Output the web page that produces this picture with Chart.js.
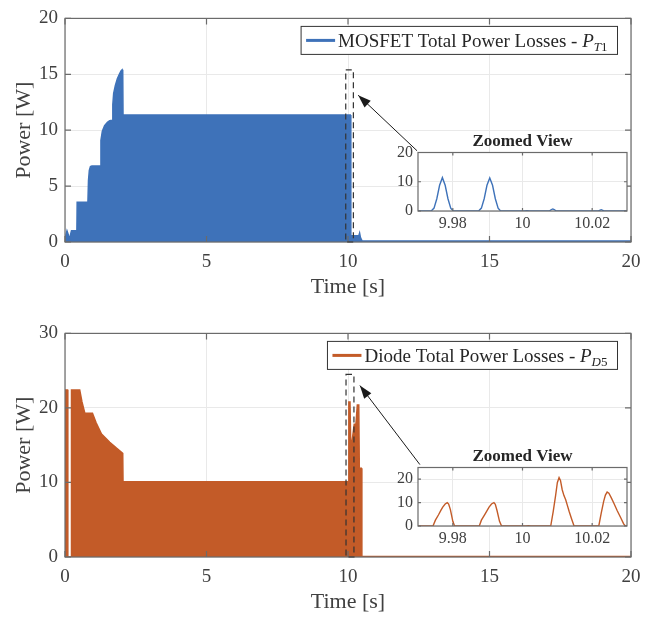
<!DOCTYPE html>
<html>
<head>
<meta charset="utf-8">
<script src="https://cdn.jsdelivr.net/npm/chart.js@4.4.1/dist/chart.umd.min.js"></script>
<style>
  body { margin: 0; background: #fff; }
  #wrap { position: relative; width: 663px; height: 617px; }
  canvas { position: absolute; }
</style>
</head>
<body>
<div id="wrap">
  <canvas id="mosfetChart" width="663" height="302" style="left:0;top:0"></canvas>
  <canvas id="diodeChart" width="663" height="302" style="left:0;top:315px"></canvas>
  <canvas id="mosfetZoom" width="265" height="110" style="left:370px;top:125px"></canvas>
  <canvas id="diodeZoom" width="265" height="110" style="left:370px;top:440px"></canvas>
</div>
<script>
// envelope of the switching losses, full run
const mosfetTime = [0, 0.03, 0.07, 0.11, 0.15, 0.19, 0.23, 0.42, 0.43, 0.81, 0.83, 0.86, 0.9, 0.95, 1.26, 1.27, 1.32, 1.4, 1.5, 1.58, 1.67, 1.69, 1.72, 1.78, 1.85, 1.92, 1.98, 2.02, 2.04, 2.05, 10.08, 10.1, 10.38, 10.41, 10.44, 10.5, 20]
const mosfetPower = [0, 0.6, 1.0, 0.7, 0.2, 0.6, 1.0, 1.0, 3.55, 3.55, 5.5, 6.4, 6.75, 6.8, 6.8, 9.1, 9.9, 10.4, 10.7, 10.85, 10.9, 12.3, 13.3, 14.0, 14.6, 15.0, 15.3, 15.4, 15.2, 11.35, 11.35, 0.55, 0.55, 0.8, 0.4, 0.08, 0.08]

const diodeTime = [0, 0.01, 0.09, 0.1, 0.22, 0.23, 0.52, 0.6, 0.7, 0.97, 1.1, 1.29, 1.45, 1.58, 1.82, 2.04, 2.05, 9.98, 10.0, 10.03, 10.07, 10.1, 10.16, 10.22, 10.28, 10.33, 10.38, 10.4, 10.47, 10.49, 20]
const diodePower = [0, 22.4, 22.4, 0, 0, 22.4, 22.4, 20.8, 19.3, 19.3, 18.0, 16.5, 15.9, 15.4, 14.6, 13.9, 10.1, 10.1, 10.1, 20.8, 20.8, 14.3, 16.0, 17.8, 17.8, 20.4, 20.4, 11.9, 11.9, 0.08, 0.08]

// zoomed window around t = 10 s
const zoomMosfetTime = [9.97, 9.9738, 9.9746, 9.9754, 9.9762, 9.977, 9.9778, 9.9786, 9.9794, 9.9801, 9.9874, 9.9882, 9.989, 9.9898, 9.9906, 9.9914, 9.9922, 9.993, 9.9937, 10.0005, 10.0013, 10.0021, 10.0077, 10.0083, 10.0087, 10.0091, 10.0097, 10.0218, 10.0226, 10.0234, 10.03]
const zoomMosfetPower = [0, 0, 1.0, 4.2, 8.8, 11.4, 8.8, 4.2, 1.0, 0, 0, 1.0, 4.2, 8.8, 11.3, 8.8, 4.2, 1.0, 0, 0, 0.1, 0, 0, 0.5, 0.7, 0.5, 0, 0, 0.45, 0, 0]

const zoomDiodeTime = [9.97, 9.9743, 9.975, 9.9759, 9.9766, 9.9771, 9.9778, 9.9784, 9.9788, 9.9793, 9.98, 9.9805, 9.9876, 9.9882, 9.9892, 9.9904, 9.9911, 9.9918, 9.9922, 9.9927, 9.9934, 9.994, 10.001, 10.0017, 10.0024, 10.0081, 10.0088, 10.0095, 10.01, 10.0105, 10.0109, 10.0114, 10.0119, 10.0124, 10.0129, 10.0134, 10.0141, 10.0148, 10.0219, 10.0226, 10.0233, 10.0238, 10.0243, 10.0248, 10.0255, 10.0263, 10.0272, 10.0282, 10.029, 10.0295, 10.03]
const zoomDiodePower = [0, 0, 2.5, 4.8, 6.8, 8.1, 9.4, 10.0, 9.4, 7.0, 2.0, 0, 0, 2.5, 5.0, 8.1, 9.4, 10.0, 9.3, 6.5, 2.0, 0, 0, 0.15, 0, 0, 6.0, 13.0, 18.5, 20.7, 19.5, 15.5, 13.0, 11.2, 8.7, 6.2, 3.0, 0, 0, 5.5, 10.5, 13.2, 14.5, 14.0, 12.0, 9.5, 6.5, 3.5, 1.0, 0, 0]

const timeTicks = [0, 5, 10, 15, 20]
const mosfetPowerTicks = [0, 5, 10, 15, 20]
const diodePowerTicks = [0, 10, 20, 30]
const zoomTimeTicks = [9.98, 10, 10.02]
const zoomTimeLabels = ['9.98', '10', '10.02']
const zoomPowerTicks = [0, 10, 20]

const mosfetLegend = ['MOSFET Total Power Losses - ', 'P', 'T', '1']
const diodeLegend = ['Diode Total Power Losses - ', 'P', 'D', '5']

const blue = '#3e72b9'
const orange = '#c35b28'
const axisGray = '#6b6b6b'
const textGray = '#404040'
const gridGray = '#e9e9e9'
const fam = "'Liberation Serif', 'Times New Roman', serif"

Chart.defaults.font.family = fam
Chart.defaults.color = textGray

function toPoints(xs, ys) {
  return xs.map((x, i) => ({ x: x, y: ys[i] }))
}

function fixedTicks(list) {
  return function (s) { s.ticks = list.map(v => ({ value: v })) }
}

// axes box with inward ticks on all sides
function drawFrame(chart, tickLen) {
  const { ctx, chartArea: a, scales } = chart
  ctx.save()
  ctx.strokeStyle = axisGray
  ctx.lineWidth = 1.2
  ctx.strokeRect(a.left, a.top, a.right - a.left, a.bottom - a.top)
  ctx.beginPath()
  scales.x.ticks.forEach(t => {
    const px = scales.x.getPixelForValue(t.value)
    ctx.moveTo(px, a.bottom); ctx.lineTo(px, a.bottom - tickLen)
    ctx.moveTo(px, a.top); ctx.lineTo(px, a.top + tickLen)
  })
  scales.y.ticks.forEach(t => {
    const py = scales.y.getPixelForValue(t.value)
    ctx.moveTo(a.left, py); ctx.lineTo(a.left + tickLen, py)
    ctx.moveTo(a.right, py); ctx.lineTo(a.right - tickLen, py)
  })
  ctx.stroke()
  ctx.restore()
}

function drawLegend(chart, parts, color) {
  const { ctx, chartArea: a } = chart
  const size = 19, sub = 13
  ctx.save()
  const fonts = [size + 'px ' + fam, 'italic ' + size + 'px ' + fam, 'italic ' + sub + 'px ' + fam, sub + 'px ' + fam]
  const widths = parts.map((p, i) => { ctx.font = fonts[i]; return ctx.measureText(p).width })
  const textW = widths.reduce((s, w) => s + w, 0)
  const boxW = 5 + 29 + 3 + textW + 10, boxH = 28
  const x0 = a.right - 13.5 - boxW, y0 = a.top + 8
  ctx.fillStyle = '#fff'
  ctx.fillRect(x0, y0, boxW, boxH)
  ctx.strokeStyle = '#333'
  ctx.lineWidth = 1
  ctx.strokeRect(x0, y0, boxW, boxH)
  ctx.strokeStyle = color
  ctx.lineWidth = 3
  ctx.beginPath()
  ctx.moveTo(x0 + 5, y0 + boxH / 2)
  ctx.lineTo(x0 + 34, y0 + boxH / 2)
  ctx.stroke()
  ctx.fillStyle = '#262626'
  ctx.textBaseline = 'alphabetic'
  ctx.textAlign = 'left'
  let tx = x0 + 37
  const base = y0 + boxH / 2 + 6.5
  parts.forEach((p, i) => {
    ctx.font = fonts[i]
    ctx.fillText(p, tx, i >= 2 ? base + 4 : base)
    tx += widths[i]
  })
  ctx.restore()
}

// dashed zoom window and arrow pointing at it
function drawCallout(chart, box, arrow) {
  const { ctx, scales: { x, y } } = chart
  const l = x.getPixelForValue(box[0]), r = x.getPixelForValue(box[1])
  const b = y.getPixelForValue(box[2]), t = y.getPixelForValue(box[3])
  ctx.save()
  ctx.setLineDash([6, 4])
  ctx.strokeStyle = '#333'
  ctx.lineWidth = 1.2
  ctx.strokeRect(l, t, r - l, b - t)
  ctx.setLineDash([])
  const x1 = x.getPixelForValue(arrow[0]), y1 = y.getPixelForValue(arrow[1])
  const x2 = x.getPixelForValue(arrow[2]), y2 = y.getPixelForValue(arrow[3])
  ctx.strokeStyle = '#1a1a1a'
  ctx.lineWidth = 1
  ctx.beginPath()
  ctx.moveTo(x1, y1)
  ctx.lineTo(x2, y2)
  ctx.stroke()
  const ang = Math.atan2(y2 - y1, x2 - x1)
  const bx = x2 - 13 * Math.cos(ang), by = y2 - 13 * Math.sin(ang)
  ctx.fillStyle = '#1a1a1a'
  ctx.beginPath()
  ctx.moveTo(x2, y2)
  ctx.lineTo(bx + 4.5 * Math.sin(ang), by - 4.5 * Math.cos(ang))
  ctx.lineTo(bx - 4.5 * Math.sin(ang), by + 4.5 * Math.cos(ang))
  ctx.closePath()
  ctx.fill()
  ctx.restore()
}

function mainChart(id, times, power, color, yMax, yTicks, legend, box, arrow) {
  return new Chart(document.getElementById(id), {
    type: 'scatter',
    data: {
      datasets: [{
        data: toPoints(times, power),
        showLine: true,
        borderColor: color,
        backgroundColor: color,
        borderWidth: 1.5,
        pointRadius: 0,
        fill: 'origin'
      }]
    },
    options: {
      responsive: false,
      animation: false,
      devicePixelRatio: 1,
      layout: { padding: { left: 0, right: 32, top: 14, bottom: 0 } },
      plugins: { legend: { display: false }, tooltip: { enabled: false } },
      scales: {
        x: {
          type: 'linear', min: 0, max: 20,
          afterBuildTicks: fixedTicks(timeTicks),
          afterFit: s => { s.height = 60 },
          grid: { color: gridGray, drawTicks: false },
          border: { display: false },
          ticks: { padding: 8.6, font: { size: 19 }, color: textGray },
          title: { display: true, text: 'Time [s]', font: { size: 22 }, color: textGray, padding: { top: 0, bottom: 2 } }
        },
        y: {
          min: 0, max: yMax,
          afterBuildTicks: fixedTicks(yTicks),
          afterFit: s => { s.width = 65 },
          grid: { color: gridGray, drawTicks: false },
          border: { display: false },
          ticks: { padding: 7, font: { size: 19 }, color: textGray },
          title: { display: true, text: 'Power [W]', font: { size: 22 }, color: textGray, padding: { top: 11, bottom: 0 } }
        }
      }
    },
    plugins: [{
      id: 'decor',
      afterDraw: c => {
        drawFrame(c, 6)
        drawCallout(c, box, arrow)
        drawLegend(c, legend, color)
      }
    }]
  })
}

function zoomChart(id, times, power, color, yMax) {
  return new Chart(document.getElementById(id), {
    type: 'scatter',
    data: {
      datasets: [{
        data: toPoints(times, power),
        showLine: true,
        borderColor: color,
        borderWidth: 1.4,
        pointRadius: 0,
        fill: false
      }]
    },
    options: {
      responsive: false,
      animation: false,
      devicePixelRatio: 1,
      layout: { padding: { left: 0, right: 8, top: 27.5, bottom: 0 } },
      plugins: { legend: { display: false }, tooltip: { enabled: false } },
      scales: {
        x: {
          type: 'linear', min: 9.97, max: 10.03,
          afterBuildTicks: fixedTicks(zoomTimeTicks),
          afterFit: s => { s.height = 24 },
          grid: { color: gridGray, drawTicks: false },
          border: { display: false },
          ticks: { padding: 3.4, font: { size: 16 }, color: textGray, callback: v => zoomTimeLabels[zoomTimeTicks.indexOf(v)] }
        },
        y: {
          min: 0, max: yMax,
          afterBuildTicks: fixedTicks(zoomPowerTicks),
          afterFit: s => { s.width = 48 },
          grid: { color: gridGray, drawTicks: false },
          border: { display: false },
          ticks: { padding: 5, font: { size: 16 }, color: textGray }
        }
      }
    },
    plugins: [{
      id: 'zoomDecor',
      beforeDraw: c => {
        const a = c.chartArea
        c.ctx.fillStyle = '#fff'
        c.ctx.fillRect(a.left, a.top, a.right - a.left, a.bottom - a.top)
      },
      afterDraw: c => {
        drawFrame(c, 3)
        const { ctx, chartArea: a } = c
        ctx.save()
        ctx.font = 'bold 17px ' + fam
        ctx.fillStyle = '#262626'
        ctx.textAlign = 'center'
        ctx.textBaseline = 'middle'
        ctx.fillText('Zoomed View', (a.left + a.right) / 2, a.top - 11)
        ctx.restore()
      }
    }]
  })
}

mainChart('mosfetChart', mosfetTime, mosfetPower, blue, 20, mosfetPowerTicks, mosfetLegend,
  [9.92, 10.19, 0, 15.4], [12.44, 8.16, 10.36, 13.13])
mainChart('diodeChart', diodeTime, diodePower, orange, 30, diodePowerTicks, diodeLegend,
  [9.93, 10.21, 0, 24.5], [12.54, 12.4, 10.42, 23.0])
zoomChart('mosfetZoom', zoomMosfetTime, zoomMosfetPower, blue, 20)
zoomChart('diodeZoom', zoomDiodeTime, zoomDiodePower, orange, 25)
</script>
</body>
</html>
